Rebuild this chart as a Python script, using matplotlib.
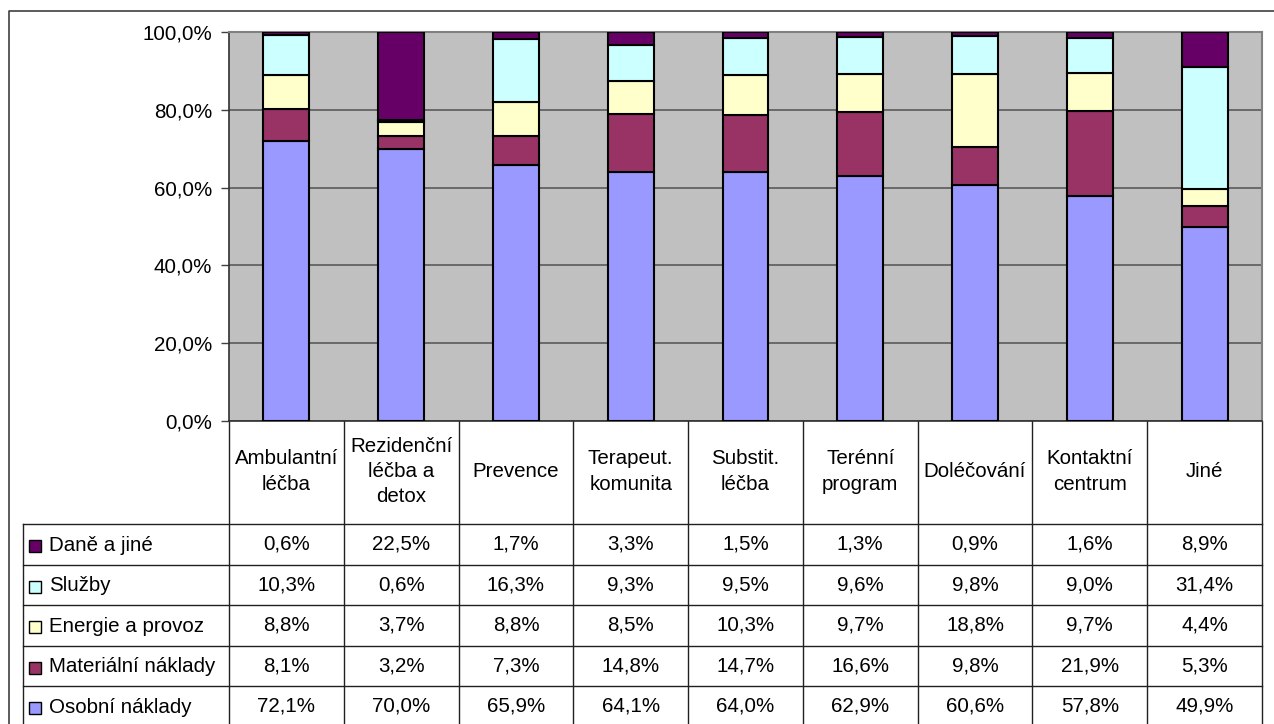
"""Struktura nákladů podle typu programu (100% skládané sloupce s tabulkou dat)."""

import matplotlib
matplotlib.use("Agg")
import matplotlib.pyplot as plt
import numpy as np
from matplotlib.ticker import FuncFormatter

plt.rcParams["font.family"] = ["Liberation Sans", "DejaVu Sans"]

categories = [
    "Ambulantní\nléčba", "Rezidenční\nléčba a\ndetox", "Prevence",
    "Terapeut.\nkomunita", "Substit.\nléčba", "Terénní\nprogram",
    "Doléčování", "Kontaktní\ncentrum", "Jiné",
]

# od spodu nahoru
osobni = [72.1, 70.0, 65.9, 64.1, 64.0, 62.9, 60.6, 57.8, 49.9]
materialni = [8.1, 3.2, 7.3, 14.8, 14.7, 16.6, 9.8, 21.9, 5.3]
energie = [8.8, 3.7, 8.8, 8.5, 10.3, 9.7, 18.8, 9.7, 4.4]
sluzby = [10.3, 0.6, 16.3, 9.3, 9.5, 9.6, 9.8, 9.0, 31.4]
dane = [0.6, 22.5, 1.7, 3.3, 1.5, 1.3, 0.9, 1.6, 8.9]

series_names = ["Osobní náklady", "Materiální náklady", "Energie a provoz",
                "Služby", "Daně a jiné"]
series_values = [osobni, materialni, energie, sluzby, dane]
colors = ["#9999FF", "#993366", "#FFFFCC", "#CCFFFF", "#660066"]

W, H = 1274, 724
FS = 14.8


def pct(v):
    return f"{v:.1f}%".replace(".", ",")


def main():
    fig = plt.figure(figsize=(W / 100, H / 100), dpi=100)

    # vnější rámeček grafu a tabulka kreslené v pixelech
    over = fig.add_axes([0, 0, 1, 1], zorder=0)
    over.set_xlim(0, W)
    over.set_ylim(H, 0)
    over.axis("off")

    px0, px1, py0, py1 = 229, 1262, 32, 421
    ax = fig.add_axes([px0 / W, 1 - py1 / H, (px1 - px0) / W, (py1 - py0) / H],
                      zorder=2)
    ax.set_facecolor("#C0C0C0")

    x = np.arange(len(categories))
    bottom = np.zeros(len(categories))
    for vals, col in zip(series_values, colors):
        vals = np.asarray(vals)
        ax.bar(x, vals, bottom=bottom, width=0.4, color=col,
               edgecolor="black", linewidth=1.5, zorder=3)
        bottom += vals

    ax.set_xlim(-0.5, len(categories) - 0.5)
    ax.set_ylim(0, 100)
    ax.set_yticks(np.arange(0, 101, 20))
    ax.yaxis.set_major_formatter(FuncFormatter(lambda v, _: pct(v)))
    ax.tick_params(axis="y", direction="out", length=6, width=1,
                   color="#404040", labelsize=FS, pad=6)
    ax.set_xticks([])
    ax.grid(axis="y", color="#5a5a5a", linewidth=1.2)
    ax.set_axisbelow(True)
    for side in ("top", "right"):
        ax.spines[side].set_color("#808080")
        ax.spines[side].set_linewidth(1.5)
    for side in ("left", "bottom"):
        ax.spines[side].set_color("#303030")
        ax.spines[side].set_linewidth(1.2)

    # rámeček celé oblasti grafu
    over.plot([9, 9, W + 5], [H + 5, 11, 11], color="#404040", lw=1.2)

    # tabulka dat
    edges = np.linspace(px0, px1, len(categories) + 1)
    header_bottom = 524
    row_h = 40.5
    n_rows = len(series_names)
    row_tops = header_bottom + row_h * np.arange(n_rows + 1)
    tab_left = 23
    lc = "#202020"

    for e in edges:
        over.plot([e, e], [py1, row_tops[-1]], color=lc, lw=1)
    over.plot([tab_left, tab_left], [header_bottom, row_tops[-1]], color=lc, lw=1)
    for yy in row_tops:
        over.plot([tab_left, px1], [yy, yy], color=lc, lw=1)

    for i, cat in enumerate(categories):
        cx = (edges[i] + edges[i + 1]) / 2
        over.text(cx, (py1 + header_bottom) / 2 - 1, cat, ha="center",
                  va="center", fontsize=FS, linespacing=1.4)

    # řádky tabulky: nahoře poslední řada (Daně a jiné)
    for r, k in enumerate(reversed(range(n_rows))):
        cy = row_tops[r] + row_h / 2
        over.add_patch(plt.Rectangle((29, cy - 4), 12, 12,
                                     facecolor=colors[k], edgecolor="black",
                                     lw=1))
        over.text(49, cy + 1, series_names[k], ha="left", va="center",
                  fontsize=FS)
        for i, v in enumerate(series_values[k]):
            cx = (edges[i] + edges[i + 1]) / 2
            over.text(cx, cy, pct(v), ha="center", va="center", fontsize=FS)

    fig.savefig("out.png", dpi=100)


if __name__ == "__main__":
    main()
